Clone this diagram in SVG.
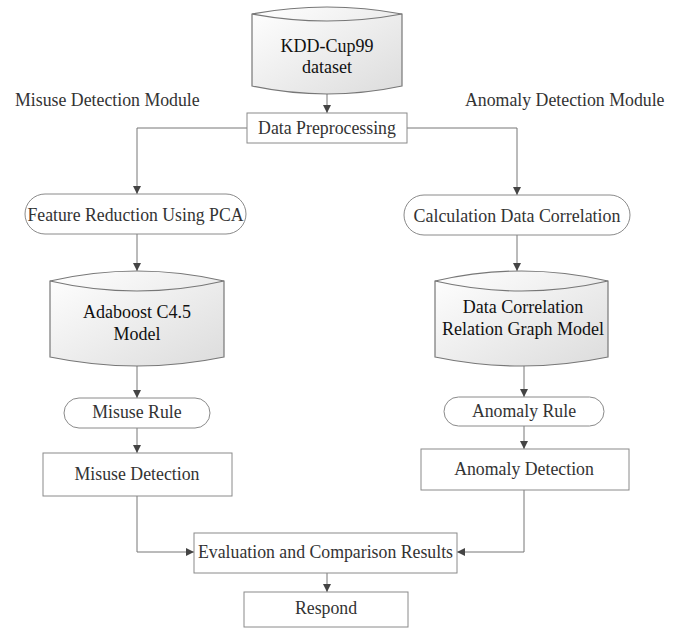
<svg xmlns="http://www.w3.org/2000/svg" width="683" height="629" viewBox="0 0 683 629">
<style>
  .t { font-family: "Liberation Serif", "Times New Roman", serif; font-size: 17.8px; fill: #333; }
  .tb { font-family: "Liberation Serif", "Times New Roman", serif; font-size: 18px; fill: #111; }
  .box { fill: #fff; stroke: #8a8a8a; stroke-width: 1; }
  .cyl { fill: url(#g); stroke: #777; stroke-width: 1.2; }
  .inner { fill: none; stroke: #777; stroke-width: 1.2; }
  .c { fill: none; stroke: #777; stroke-width: 1; }
</style>
<defs>
  <linearGradient id="g" x1="0" y1="0" x2="1" y2="1">
    <stop offset="0" stop-color="#ffffff"/>
    <stop offset="1" stop-color="#dcdcdc"/>
  </linearGradient>
  <marker id="a" viewBox="0 0 10 10" refX="10" refY="5" markerWidth="8" markerHeight="8" markerUnits="userSpaceOnUse" orient="auto">
    <path d="M0,0 L10,5 L0,10 Z" fill="#444"/>
  </marker>
</defs>
<rect width="683" height="629" fill="#fff"/>

<g id="labels">
  <text class="t" x="15" y="106">Misuse Detection Module</text>
  <text class="t" x="465" y="106">Anomaly Detection Module</text>
</g>

<g id="connectors">
  <path class="c" d="M327,94 L327,113" marker-end="url(#a)"/>
  <path class="c" d="M247,128 L137,128 L137,194" marker-end="url(#a)"/>
  <path class="c" d="M407,128 L517,128 L517,195" marker-end="url(#a)"/>
  <path class="c" d="M137,234 L137,271" marker-end="url(#a)"/>
  <path class="c" d="M517,235 L517,271" marker-end="url(#a)"/>
  <path class="c" d="M137,366 L137,398" marker-end="url(#a)"/>
  <path class="c" d="M524,366 L524,397" marker-end="url(#a)"/>
  <path class="c" d="M137,428 L137,453" marker-end="url(#a)"/>
  <path class="c" d="M524,426 L524,449" marker-end="url(#a)"/>
  <path class="c" d="M137,496 L137,552 L194,552" marker-end="url(#a)"/>
  <path class="c" d="M524,490 L524,552 L457,552" marker-end="url(#a)"/>
  <path class="c" d="M327,573 L327,592" marker-end="url(#a)"/>
</g>

<g id="kdd">
  <path class="cyl" d="M252,14 Q327,0 402,14 L402,86 Q327,102 252,86 Z"/>
  <path class="inner" d="M252,14 Q327,28 402,14"/>
  <text class="tb" x="327" y="52" text-anchor="middle">KDD-Cup99</text>
  <text class="tb" x="327" y="73" text-anchor="middle">dataset</text>
</g>

<g id="preprocessing">
  <rect class="box" x="247" y="113" width="160" height="30"/>
  <text class="t" x="327" y="134" text-anchor="middle">Data Preprocessing</text>
</g>

<g id="feature-reduction">
  <rect class="box" x="25" y="194" width="221" height="40" rx="20"/>
  <text class="t" x="135.5" y="221" text-anchor="middle" textLength="216" lengthAdjust="spacingAndGlyphs">Feature Reduction Using PCA</text>
</g>

<g id="calc-correlation">
  <rect class="box" x="404" y="195" width="226" height="40" rx="20"/>
  <text class="t" x="517" y="222" text-anchor="middle" textLength="207" lengthAdjust="spacingAndGlyphs">Calculation Data Correlation</text>
</g>

<g id="adaboost">
  <path class="cyl" d="M50,281 Q137,261 224,281 L224,357 Q137,375 50,357 Z"/>
  <path class="inner" d="M50,281 Q137,301 224,281"/>
  <text class="tb" x="137" y="318" text-anchor="middle">Adaboost C4.5</text>
  <text class="tb" x="137" y="340" text-anchor="middle">Model</text>
</g>

<g id="correlation-graph">
  <path class="cyl" d="M435,281 Q521.5,261 608,281 L608,357 Q521.5,375 435,357 Z"/>
  <path class="inner" d="M435,281 Q521.5,301 608,281"/>
  <text class="tb" x="523" y="313" text-anchor="middle">Data Correlation</text>
  <text class="tb" x="523" y="335" text-anchor="middle">Relation Graph Model</text>
</g>

<g id="misuse-rule">
  <rect class="box" x="64" y="398" width="146" height="30" rx="15"/>
  <text class="t" x="137" y="418" text-anchor="middle">Misuse Rule</text>
</g>

<g id="anomaly-rule">
  <rect class="box" x="444" y="397" width="160" height="29" rx="14.5"/>
  <text class="t" x="524" y="417" text-anchor="middle">Anomaly Rule</text>
</g>

<g id="misuse-detection">
  <rect class="box" x="43" y="453" width="189" height="43"/>
  <text class="t" x="137" y="480" text-anchor="middle">Misuse Detection</text>
</g>

<g id="anomaly-detection">
  <rect class="box" x="421" y="449" width="208" height="41"/>
  <text class="t" x="524" y="475" text-anchor="middle">Anomaly Detection</text>
</g>

<g id="evaluation">
  <rect class="box" x="194" y="533" width="263" height="40"/>
  <text class="t" x="325.5" y="558" text-anchor="middle" textLength="255" lengthAdjust="spacingAndGlyphs">Evaluation and Comparison Results</text>
</g>

<g id="respond">
  <rect class="box" x="244" y="592" width="164" height="35"/>
  <text class="t" x="326" y="614" text-anchor="middle">Respond</text>
</g>
</svg>
